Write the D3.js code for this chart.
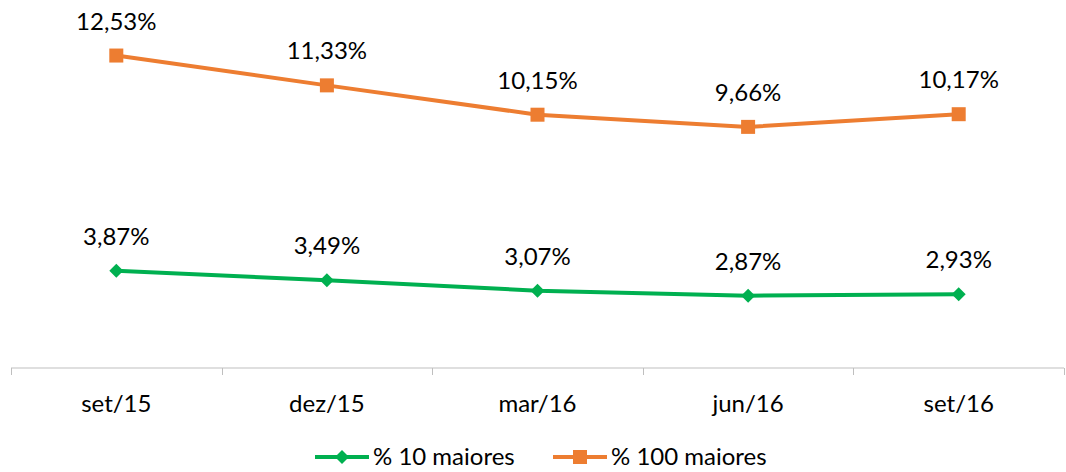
<!DOCTYPE html>
<html>
<head>
<meta charset="utf-8">
<script src="https://cdn.jsdelivr.net/npm/d3@7"></script>
<style>
  body { margin: 0; background: #fff; }
  text { font-family: Lato, "Open Sans", sans-serif; fill: #000; }
</style>
</head>
<body>
<div id="chart"></div>
<script>
// Data
const categories = ["set/15", "dez/15", "mar/16", "jun/16", "set/16"];
const top10 = [3.87, 3.49, 3.07, 2.87, 2.93];
const top100 = [12.53, 11.33, 10.15, 9.66, 10.17];
const seriesNames = ["% 10 maiores", "% 100 maiores"];

const svgWidth = 1066;
const svgHeight = 472;

const svg = d3.select("#chart")
  .append("svg")
  .attr("width", svgWidth)
  .attr("height", svgHeight);

const x = d3.scaleBand()
  .domain(categories)
  .range([11, 1064]);

const y = d3.scaleLinear()
  .domain([0, 14])
  .range([367, 19]);

const fmt = v => v.toFixed(2).replace(".", ",") + "%";

// x axis
const axisY = 368;
svg.append("line")
  .attr("x1", 11).attr("x2", 1064)
  .attr("y1", axisY).attr("y2", axisY)
  .attr("stroke", "#bfbfbf").attr("stroke-width", 1);

const tickPos = categories.map(c => x(c)).concat([x(categories[categories.length - 1]) + x.bandwidth()]);
svg.selectAll(".tick")
  .data(tickPos)
  .enter()
  .append("line")
  .attr("x1", d => Math.round(d) + 0.5).attr("x2", d => Math.round(d) + 0.5)
  .attr("y1", axisY).attr("y2", axisY + 7)
  .attr("stroke", "#bfbfbf");

svg.selectAll(".cat")
  .data(categories)
  .enter()
  .append("text")
  .attr("x", d => x(d) + x.bandwidth() / 2)
  .attr("y", 412)
  .attr("text-anchor", "middle")
  .style("font-size", "24px")
  .text(d => d);

const series = [
  { name: seriesNames[0], values: top10, color: "#00b050", marker: "diamond" },
  { name: seriesNames[1], values: top100, color: "#ed7d31", marker: "square" }
];

const line = d3.line()
  .x((d, i) => x(categories[i]) + x.bandwidth() / 2)
  .y(d => y(d));

function drawMarker(g, type, cx, cy, color) {
  if (type === "square") {
    g.append("rect")
      .attr("x", cx - 7).attr("y", cy - 7)
      .attr("width", 14).attr("height", 14)
      .attr("fill", color);
  } else {
    g.append("path")
      .attr("d", `M${cx},${cy - 7}L${cx + 7},${cy}L${cx},${cy + 7}L${cx - 7},${cy}Z`)
      .attr("fill", color);
  }
}

series.forEach(s => {
  svg.append("path")
    .datum(s.values)
    .attr("d", line)
    .attr("fill", "none")
    .attr("stroke", s.color)
    .attr("stroke-width", 4)
    .attr("stroke-linejoin", "round");

  const g = svg.append("g");
  s.values.forEach((v, i) => {
    const cx = x(categories[i]) + x.bandwidth() / 2;
    drawMarker(g, s.marker, cx, y(v), s.color);
  });

  svg.append("g")
    .selectAll("text")
    .data(s.values)
    .enter()
    .append("text")
    .attr("x", (d, i) => x(categories[i]) + x.bandwidth() / 2)
    .attr("y", d => y(d) - 26)
    .attr("text-anchor", "middle")
    .style("font-size", "24px")
    .text(d => fmt(d));
});

// Legend
const legendItems = [
  { x: 315, s: series[0] },
  { x: 553, s: series[1] }
];
legendItems.forEach(item => {
  const ly = 457;
  const g = svg.append("g");
  g.append("line")
    .attr("x1", item.x).attr("x2", item.x + 54)
    .attr("y1", ly).attr("y2", ly)
    .attr("stroke", item.s.color).attr("stroke-width", 4);
  drawMarker(g, item.s.marker, item.x + 27, ly, item.s.color);
  g.append("text")
    .attr("x", item.x + 58)
    .attr("y", ly + 8)
    .style("font-size", "24px")
    .text(item.s.name);
});
</script>
</body>
</html>
